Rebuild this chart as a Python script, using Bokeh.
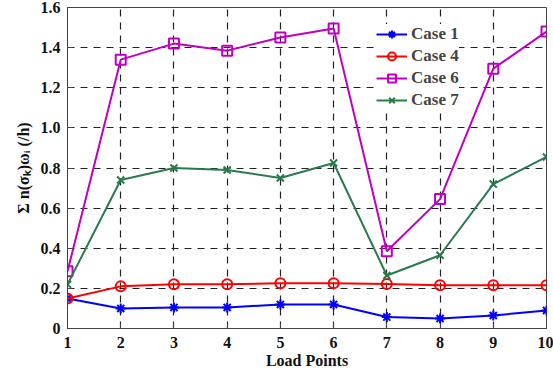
from bokeh.plotting import figure
from bokeh.models import Range1d, Legend, FixedTicker
from bokeh.embed import file_html
from bokeh.resources import INLINE

load_points = [1, 2, 3, 4, 5, 6, 7, 8, 9, 10]
case1 = [0.15, 0.10, 0.105, 0.105, 0.12, 0.12, 0.057, 0.05, 0.065, 0.09]
case4 = [0.15, 0.21, 0.22, 0.22, 0.225, 0.225, 0.222, 0.215, 0.215, 0.215]
case6 = [0.285, 1.34, 1.42, 1.385, 1.45, 1.495, 0.385, 0.645, 1.295, 1.48]
case7 = [0.22, 0.74, 0.80, 0.79, 0.75, 0.825, 0.264, 0.365, 0.72, 0.855]
y_ticks = [0, 0.2, 0.4, 0.6, 0.8, 1.0, 1.2, 1.4, 1.6]
y_tick_labels = ["0", "0.2", "0.4", "0.6", "0.8", "1.0", "1.2", "1.4", "1.6"]

FONT = "Liberation Serif"

p = figure(width=553, height=375, output_backend="svg", toolbar_location=None,
           x_range=Range1d(1, 10), y_range=Range1d(0, 1.6),
           min_border_left=67, min_border_right=7, min_border_top=7, min_border_bottom=47)
p.outline_line_color = "#444444"
p.outline_line_width = 1

series = [
    ("Case 1", case1, "#0000FF", "asterisk"),
    ("Case 4", case4, "#FF0000", "circle"),
    ("Case 6", case6, "#C000C0", "square"),
    ("Case 7", case7, "#2A7A50", "x"),
]
items = []
for name, ys, col, mk in series:
    l = p.line(load_points, ys, line_color=col, line_width=2)
    s = p.scatter(load_points, ys, marker=mk, size=10, line_color=col,
                  fill_color=None, line_width=2)
    items.append((name, [l, s]))

legend = Legend(items=items, location=(309, 218))
legend.label_text_font = "'Liberation Serif', serif"
legend.label_text_font_style = "bold"
legend.label_text_font_size = "17px"
legend.label_height = 20
legend.glyph_height = 20
legend.glyph_width = 31
legend.label_standoff = 4
legend.spacing = 2
legend.border_line_color = None
legend.background_fill_alpha = 1
legend.padding = 4
legend.margin = 0
p.add_layout(legend, "center")

p.xaxis.ticker = FixedTicker(ticks=load_points)
p.yaxis.ticker = FixedTicker(ticks=y_ticks)
p.yaxis.major_label_overrides = {t: l for t, l in zip(y_ticks, y_tick_labels)}

for ax in (p.xaxis, p.yaxis):
    ax.major_label_text_font = FONT
    ax.major_label_text_font_style = "bold"
    ax.major_label_text_font_size = "16px"
    ax.major_label_text_color = "#111111"
    ax.axis_label_text_font = FONT
    ax.axis_label_text_font_style = "bold"
    ax.axis_label_text_font_size = "16px"
    ax.axis_label_text_color = "#111111"
    ax.major_tick_in = 5
    ax.major_tick_out = 0
    ax.minor_tick_line_color = None
    ax.axis_line_color = "#444444"
    ax.major_tick_line_color = "#444444"

p.xaxis.axis_label = "Load Points"
p.xaxis.axis_label_standoff = 1
p.xaxis.major_label_standoff = 8
p.yaxis.axis_label = "Σ n(σₖ)ωᵢ (/h)"
p.yaxis.axis_label_standoff = 6
p.yaxis.major_label_standoff = 7

p.xgrid.grid_line_color = "#222222"
p.ygrid.grid_line_color = "#222222"
p.xgrid.grid_line_dash = "7 6"
p.ygrid.grid_line_dash = "7 6"
p.xgrid.grid_line_width = 1.2
p.ygrid.grid_line_width = 1.2

open("out.html", "w").write(file_html(p, INLINE))
